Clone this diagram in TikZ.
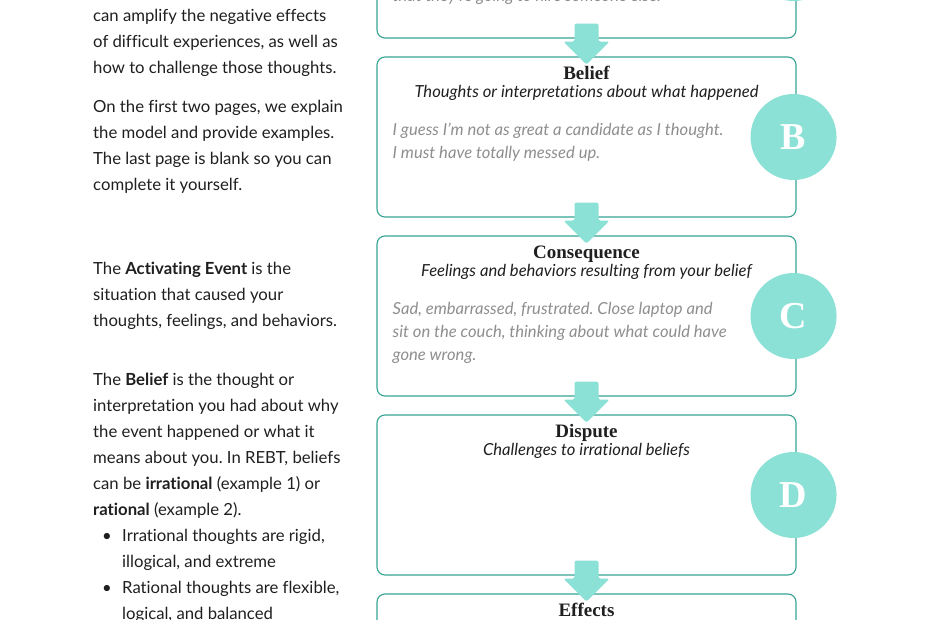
\documentclass[tikz,border=0pt]{standalone}
\usepackage{fontspec}
\setmainfont{Lato}[Ligatures=NoCommon]
\newfontfamily\headfont{Liberation Serif}
\usetikzlibrary{calc}
\frenchspacing

\begin{document}
\begin{tikzpicture}[x=1pt,y=-1pt]
  % Colours of the worksheet.
  \definecolor{rim}{HTML}{36A393}
  \definecolor{mint}{HTML}{8CE1D7}
  \definecolor{hint}{HTML}{8E8E8E}
  \definecolor{ink}{HTML}{1F1F1F}
  \useasboundingbox (0,0) rectangle (930,620);
  \clip (0,0) rectangle (930,620);

  \tikzset{
    stage/.style={draw=rim, line width=1.1pt, rounded corners=8pt, minimum width=419pt, minimum height=160pt, inner sep=0pt},
    stagename/.style={anchor=base, text=ink, font=\headfont\bfseries\fontsize{19}{19}\selectfont},
    stagehint/.style={anchor=base, text=ink, font=\itshape\fontsize{16.6}{16.6}\selectfont},
    % multi-line nodes sit on the baseline of their last line
    example/.style={anchor=base west, align=left, inner sep=0pt, text=hint, font=\itshape\fontsize{16.6}{23}\selectfont},
    letter/.style={circle, fill=mint, minimum size=86pt, inner sep=0pt, text=white, font=\headfont\bfseries\fontsize{38}{38}\selectfont},
    flow/.style={fill=mint, rounded corners=2pt},
    side/.style={anchor=base west, align=left, inner sep=0pt, text=ink, font=\fontsize{16.7}{26}\selectfont}
  }

  % The five stage boxes, one under the other.
  \node[stage] (actbox) at (586.5,-42) {};
  \node[stage] (belbox) at (586.5,137) {};
  \node[stage] (conbox) at (586.5,316) {};
  \node[stage] (disbox) at (586.5,495) {};
  \node[stage] (effbox) at (586.5,674) {};

  \node[example] (actex) at ($(actbox.north west)+(16,124)$) {that they’re going to hire someone else.};

  \node[stagename] (belname) at ($(belbox.north)+(0,23)$) {Belief};
  \node[stagehint] (belhint) at ($(belbox.north)+(0,41)$) {Thoughts or interpretations about what happened};
  \node[example] (belex) at ($(belbox.north west)+(16,102)$) {I guess I’m not as great a candidate as I thought.\\I must have totally messed up.};

  \node[stagename] (conname) at ($(conbox.north)+(0,23)$) {Consequence};
  \node[stagehint] (conhint) at ($(conbox.north)+(0,41)$) {Feelings and behaviors resulting from your belief};
  \node[example] (conex) at ($(conbox.north west)+(16,125)$) {Sad, embarrassed, frustrated. Close laptop and\\sit on the couch, thinking about what could have\\gone wrong.};

  \node[stagename] (disname) at ($(disbox.north)+(0,23)$) {Dispute};
  \node[stagehint] (dishint) at ($(disbox.north)+(0,41)$) {Challenges to irrational beliefs};

  \node[stagename] (effname) at ($(effbox.north)+(0,23)$) {Effects};

  % Block arrows from each box into the next.
  \foreach \a in {actbox,belbox,conbox,disbox}
    \fill[flow, shift={(\a.south)}] (-12,-15) -- (12,-15) -- (12,3) -- (23,3) -- (0,26) -- (-23,3) -- (-12,3) -- cycle;

  % Letter discs on the right edges.
  \node[letter] (actdisc) at ($(actbox.east)+(-3,0)$) {};
  \node[letter] (beldisc) at ($(belbox.east)+(-3,0)$) {B};
  \node[letter] (condisc) at ($(conbox.east)+(-3,0)$) {C};
  \node[letter] (disdisc) at ($(disbox.east)+(-3,0)$) {D};

  % Notes in the left column.
  \node[side] (introtail) at (93,74) {can amplify the negative effects\\of difficult experiences, as well as\\how to challenge those thoughts.};
  \node[side] (pages) at (93,191) {On the first two pages, we explain\\the model and provide examples.\\The last page is blank so you can\\complete it yourself.};
  \node[side] (actnote) at (93,327) {The \textbf{Activating Event} is the\\situation that caused your\\thoughts, feelings, and behaviors.};
  \node[side] (belnote) at (93,619) {The \textbf{Belief} is the thought or\\interpretation you had about why\\the event happened or what it\\means about you. In REBT, beliefs\\can be \textbf{irrational} (example 1) or\\\textbf{rational} (example 2).\\
    \hspace*{9pt}\makebox[20pt][l]{•}Irrational thoughts are rigid,\\\hspace*{29pt}illogical, and extreme\\
    \hspace*{9pt}\makebox[20pt][l]{•}Rational thoughts are flexible,\\\hspace*{29pt}logical, and balanced};
\end{tikzpicture}
\end{document}
